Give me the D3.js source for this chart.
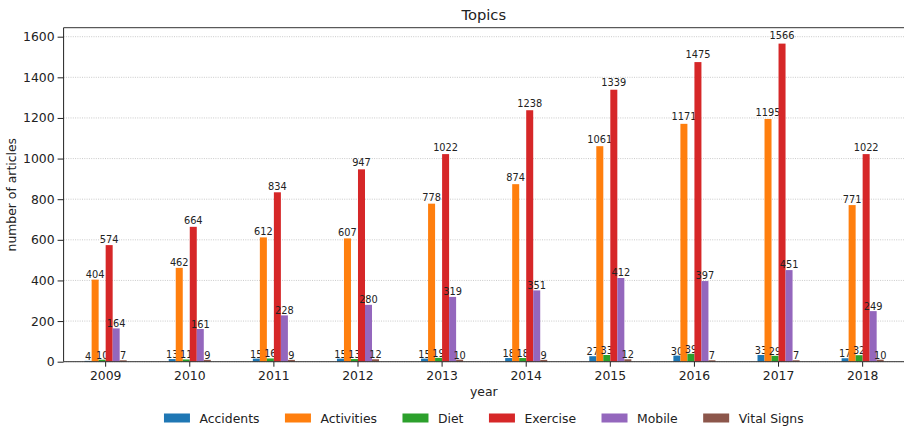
<!DOCTYPE html>
<html>
<head>
<meta charset="utf-8">
<script src="https://cdn.jsdelivr.net/npm/d3@7"></script>
<style>
  body { margin: 0; background: #fff; }
  text { font-family: "DejaVu Sans", sans-serif; fill: #222; }
</style>
</head>
<body>
<div id="chart"></div>
<script>
// data
const years = ["2009", "2010", "2011", "2012", "2013", "2014", "2015", "2016", "2017", "2018"];
const topics = ["Accidents", "Activities", "Diet", "Exercise", "Mobile", "Vital Signs"];
const accidents = [4, 13, 15, 15, 15, 18, 27, 30, 33, 17];
const activities = [404, 462, 612, 607, 778, 874, 1061, 1171, 1195, 771];
const diet = [10, 11, 16, 13, 19, 18, 33, 39, 29, 32];
const exercise = [574, 664, 834, 947, 1022, 1238, 1339, 1475, 1566, 1022];
const mobile = [164, 161, 228, 280, 319, 351, 412, 397, 451, 249];
const vitalSigns = [7, 9, 9, 12, 10, 9, 12, 7, 7, 10];
const yTicks = [0, 200, 400, 600, 800, 1000, 1200, 1400, 1600];

const seriesValues = [accidents, activities, diet, exercise, mobile, vitalSigns];
const colors = ["#1f77b4", "#ff7f0e", "#2ca02c", "#d62728", "#9467bd", "#8c564b"];

const width = 904, height = 429;
const plot = { left: 63.6, right: 904.7, top: 27.7, bottom: 361.7 };
const labelSize = "12.4px";

const svg = d3.select("#chart")
    .append("svg")
    .attr("width", width)
    .attr("height", height);

let x = d3.scaleBand()
    .domain(years)
    .range([plot.left, plot.right])
    .padding(0);

let bw = x.bandwidth();
let xInner = d3.scaleBand()
    .domain(topics)
    .range([bw * 0.25, bw * 0.75])
    .padding(0);

let maxVal = d3.max(seriesValues, s => d3.max(s));
let y = d3.scaleLinear()
    .domain([0, maxVal * 1.05])
    .range([plot.bottom, plot.top]);

// grid
svg.append("g")
    .selectAll("line")
    .data(yTicks)
    .enter()
    .append("line")
    .attr("x1", plot.left)
    .attr("x2", plot.right)
    .attr("y1", d => y(d))
    .attr("y2", d => y(d))
    .attr("stroke", "#bdbdbd")
    .attr("stroke-width", 0.8)
    .attr("stroke-dasharray", "1,1.3");

// bars
topics.forEach(function(t, i) {
    let vals = seriesValues[i];
    let g = svg.append("g");
    g.selectAll("rect")
        .data(vals)
        .enter()
        .append("rect")
        .attr("x", (d, j) => x(years[j]) + xInner(t))
        .attr("y", d => y(d))
        .attr("width", xInner.bandwidth())
        .attr("height", d => y(0) - y(d))
        .attr("fill", colors[i]);

    g.selectAll("text")
        .data(vals)
        .enter()
        .append("text")
        .attr("x", (d, j) => x(years[j]) + xInner(t) + xInner.bandwidth() / 2)
        .attr("y", d => y(d * 1.01) - 1)
        .attr("text-anchor", "middle")
        .style("font-size", "9.8px")
        .text(d => d);
});

// axes
let yAxis = svg.append("g")
    .attr("transform", `translate(${plot.left},0)`)
    .call(d3.axisLeft(y).tickValues(yTicks).tickFormat(d3.format("d")).tickSize(6).tickPadding(3));
yAxis.select(".domain").remove();
yAxis.selectAll("text").style("font-size", labelSize).style("font-family", "DejaVu Sans");
yAxis.selectAll("line").attr("stroke", "#222");

let xAxis = svg.append("g")
    .attr("transform", `translate(0,${plot.bottom})`)
    .call(d3.axisBottom(x).tickSize(5).tickPadding(4.6));
xAxis.select(".domain").remove();
xAxis.selectAll("text").style("font-size", labelSize).style("font-family", "DejaVu Sans");
xAxis.selectAll("line").attr("stroke", "#222");

// spines
svg.append("line")
    .attr("x1", plot.left).attr("x2", plot.left)
    .attr("y1", plot.top).attr("y2", plot.bottom)
    .attr("stroke", "#222");
svg.append("line")
    .attr("x1", plot.left).attr("x2", plot.right)
    .attr("y1", plot.top).attr("y2", plot.top)
    .attr("stroke", "#333");
svg.append("line")
    .attr("x1", plot.left).attr("x2", plot.right)
    .attr("y1", plot.bottom).attr("y2", plot.bottom)
    .attr("stroke", "#333");

// titles
let midX = (plot.left + 904) / 2;
svg.append("text")
    .attr("x", midX)
    .attr("y", 20)
    .attr("text-anchor", "middle")
    .style("font-size", "14.7px")
    .text("Topics");

svg.append("text")
    .attr("x", midX)
    .attr("y", 396)
    .attr("text-anchor", "middle")
    .style("font-size", labelSize)
    .text("year");

svg.append("text")
    .attr("transform", `translate(15.5, ${(plot.top + plot.bottom) / 2})rotate(-90)`)
    .attr("text-anchor", "middle")
    .style("font-size", labelSize)
    .text("number of articles");

// legend
let legend = svg.append("g");
let lx = 0;
topics.forEach(function(t, i) {
    let item = legend.append("g").attr("transform", `translate(${lx},0)`);
    item.append("rect")
        .attr("x", 0)
        .attr("y", 413.5)
        .attr("width", 26)
        .attr("height", 9)
        .attr("fill", colors[i]);
    let txt = item.append("text")
        .attr("x", 35.5)
        .attr("y", 422.5)
        .style("font-size", labelSize)
        .text(t);
    lx += 35.5 + txt.node().getComputedTextLength() + 25.5;
});
let legendW = lx - 25.5;
legend.attr("transform", `translate(${midX - legendW / 2},0)`);
</script>
</body>
</html>
